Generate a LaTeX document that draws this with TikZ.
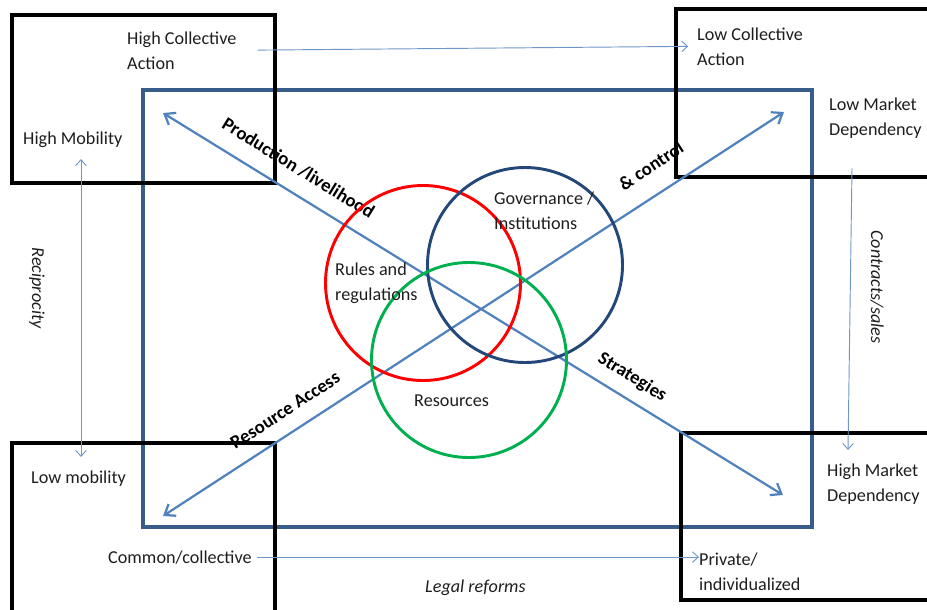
\documentclass[tikz,border=0pt]{standalone}
\usepackage{fontspec}
\setmainfont{Carlito}
\usetikzlibrary{arrows.meta}

\definecolor{arrowblue}{HTML}{4F81BD}
\definecolor{thinblue}{HTML}{7096C8}
\definecolor{frameblue}{HTML}{385D8A}
\definecolor{navy}{HTML}{24477A}
\definecolor{vgreen}{HTML}{00B050}
\definecolor{txtgrey}{HTML}{1E1E1E}

\begin{document}
\begin{tikzpicture}[x=0.03cm,y=-0.03cm]

      \useasboundingbox (0,0) rectangle (927,609);
      \clip (0,0) rectangle (927,609);

      % outer frame and corner boxes
      \draw[frameblue,line width=3pt] (143,90) rectangle (812,527);

      \begin{scope}[line width=3pt]
        \draw (12,15)   rectangle (275,183);
        \draw (676,9)   rectangle (935,177);
        \draw (12,443)  rectangle (275,620);
        \draw (681,433) rectangle (935,600);
      \end{scope}

      \coordinate (pl)  at (163,113);
      \coordinate (pr)  at (783,495);
      \coordinate (ral) at (163,516);
      \coordinate (rar) at (784,112);

      \begin{scope}[every node/.style={font=\bfseries\fontsize{16}{19}\selectfont,
          sloped,anchor=base,inner sep=0pt}]

        \begin{scope}[every edge/.style={draw=arrowblue,line width=1.9pt,
            {Straight Barb[length=8pt,width=12pt]}-{Straight Barb[length=8pt,width=12pt]}}]
          \path (pl)  edge node[pos=0.198,yshift=15.3pt] {Production /livelihood}
                           node[pos=0.739,yshift=13.6pt] {Strategies} (pr);
          \path (ral) edge node[pos=0.216,yshift=13.6pt] {Resource Access}
                           node[pos=0.810,yshift=17.9pt] {\& control} (rar);
        \end{scope}

      \end{scope}

      \begin{scope}[every node/.style={circle,draw,line width=2.5pt,minimum size=5.85cm}]
        \node[draw=red]    (rules) at (423,283) {};
        \node[draw=navy]   (gov)   at (525,265) {};
        \node[draw=vgreen] (res)   at (469,360) {};
      \end{scope}

      % two-line texts sit on the baseline of their last line
      \begin{scope}[every node/.style={font=\fontsize{15.5}{21.3}\selectfont,
          anchor=base west,align=left,inner sep=0pt,text=txtgrey}]
        \node (hca)  at (127,69)  {High Collective\\Action};
        \node (hmob) at (23,144)  {High Mobility};
        \node (lca)  at (697,65)  {Low Collective\\Action};
        \node (lmd)  at (829,135) {Low Market\\Dependency};
        \node (lmob) at (31,483)  {Low mobility};
        \node (comm) at (108,563) {Common/collective};
        \node (hmd)  at (827,501) {High Market\\Dependency};
        \node (priv) at (699,590) {Private/\\individualized};
        \node (rrl)  at (335,300) {Rules and\\regulations};
        \node (gil)  at (494,229) {Governance /\\Institutions};
        \node (resl) at (414,406) {Resources};
        \node[font=\itshape\fontsize{15.5}{21.3}\selectfont] (legal) at (425,592) {Legal reforms};
        \node[anchor=center,rotate=-90,font=\itshape\fontsize{15.5}{21.3}\selectfont] (recip) at (37,288) {Reciprocity};
        \node[anchor=center,rotate=-90,font=\itshape\fontsize{15.5}{21.3}\selectfont] (contr) at (877,287) {Contracts/sales};
      \end{scope}

      \coordinate (mobtop) at (81,159);
      \coordinate (mobbot) at (81,457);
      \coordinate (mkttop) at (852,168);
      \coordinate (mktbot) at (848,450);
      \coordinate (privtop) at (699,557);

      \begin{scope}[every edge/.style={draw=thinblue,line width=0.8pt}]
        \path (hca.east) edge[-{Straight Barb[length=5pt,width=9pt]},
                              shorten <=18pt,shorten >=7.5pt] (lca.west);
        \path (comm.east) edge[-{Straight Barb[length=5pt,width=9pt]},
                              shorten <=4.5pt] (comm.east -| privtop);
        \path (mobtop) edge[{Straight Barb[length=5pt,width=9pt]}-{Straight Barb[length=5pt,width=9pt]}] (mobbot);
        \path (mkttop) edge[-{Straight Barb[length=5pt,width=9pt]}] (mktbot);
      \end{scope}

    \end{tikzpicture}
\end{document}
